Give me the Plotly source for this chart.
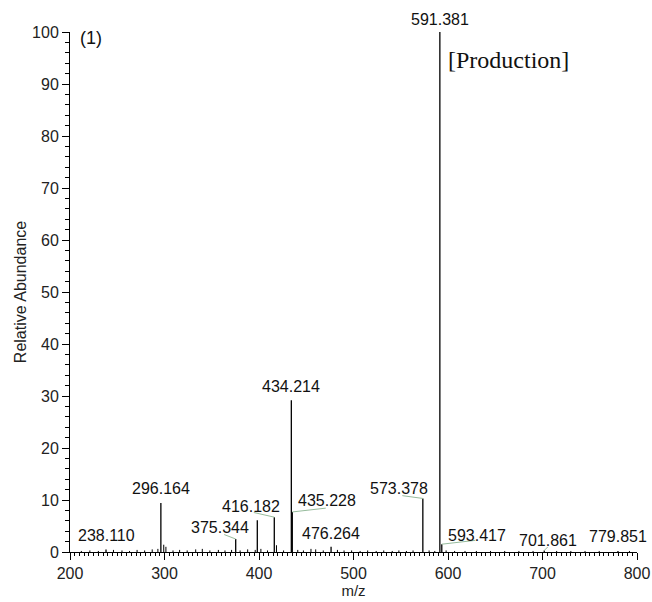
import plotly.graph_objects as go

# ---- data ----
peak_mz = [238.110, 296.164, 375.344, 398.2, 416.182, 434.214, 435.228, 476.264,
           573.378, 591.381, 593.417, 701.861, 779.851]
peak_int = [0.5, 9.4, 2.5, 6.1, 6.7, 29.2, 7.7, 1.0, 10.3, 100.0, 1.5, 0.3, 0.2]
peak_labels = ["238.110", "296.164", "375.344", "", "416.182", "434.214", "435.228",
               "476.264", "573.378", "591.381", "593.417", "701.861", "779.851"]

noise_mz = [212, 221, 230, 246, 255, 263, 271, 279, 287, 293, 299.2, 301.5, 309, 316,
            324, 333, 340, 348, 357, 364, 371, 380, 388, 396, 402, 409, 418.5, 426,
            441, 447, 455, 460, 468, 483, 490, 498, 507, 515, 524, 532, 541, 548, 556,
            563, 580, 586, 598, 607, 618, 630, 645, 660, 675, 690, 715, 730, 745, 760, 792]
noise_int = [0.2, 0.3, 0.2, 0.4, 0.3, 0.2, 0.4, 0.3, 0.5, 0.6, 1.4, 1.0, 0.3, 0.4,
             0.3, 0.5, 0.6, 0.3, 0.4, 0.3, 0.4, 0.3, 0.5, 0.4, 0.6, 0.3, 1.3, 0.3,
             0.4, 0.3, 0.6, 0.5, 0.3, 0.4, 0.3, 0.3, 0.2, 0.3, 0.2, 0.3, 0.2, 0.3, 0.2,
             0.3, 0.3, 0.2, 0.3, 0.2, 0.2, 0.2, 0.2, 0.2, 0.2, 0.2, 0.2, 0.2, 0.2, 0.2, 0.2]

# label placement styling (pixel offsets from peak top)
text_offset = {  # (dx, dy) of text centre, screen pixels (dy down)
    "375.344": (-16, -12), "416.182": (-23, -11), "435.228": (35, -11),
    "573.378": (-24, -10), "593.417": (35, -9), "701.861": (4, -10),
}
leader_offset = {  # end point of the leader line
    "375.344": (-13, -5), "416.182": (-22, -5), "435.228": (35, -4),
    "573.378": (-22, -3), "593.417": (35, -4), "701.861": (5, -5),
}
label_yshift = {"238.110": 3, "296.164": 4, "434.214": 3, "476.264": 3,
                "591.381": 2, "779.851": 4}

def sticks(xs, ys):
    sx, sy = [], []
    for x, y in zip(xs, ys):
        sx += [x, x, None]
        sy += [0, y, None]
    return sx, sy

fig = go.Figure()
nx, ny = sticks(noise_mz, noise_int)
fig.add_trace(go.Scatter(x=nx, y=ny, mode="lines", line=dict(color="black", width=1),
                         hoverinfo="skip", showlegend=False))
px_, py_ = sticks(peak_mz, peak_int)
fig.add_trace(go.Scatter(x=px_, y=py_, mode="lines", line=dict(color="black", width=1.3),
                         showlegend=False))

font_lbl = dict(family="Liberation Sans, Arial, sans-serif", size=16, color="#111")
for mz, h, lab in zip(peak_mz, peak_int, peak_labels):
    if not lab:
        continue
    if lab in text_offset:
        lx, ly = leader_offset[lab]
        fig.add_annotation(x=mz, y=h, text="", showarrow=True, arrowhead=0,
                           arrowwidth=1, arrowcolor="#96bb9c", ax=lx, ay=ly, standoff=0)
        dx, dy = text_offset[lab]
        fig.add_annotation(x=mz, y=h, text=lab, showarrow=False, xshift=dx, yshift=-dy,
                           xanchor="center", yanchor="middle", font=font_lbl)
    else:
        fig.add_annotation(x=mz, y=h, text=lab, showarrow=False, yanchor="bottom",
                           yshift=label_yshift.get(lab, 3), font=font_lbl)

fig.add_annotation(xref="paper", yref="paper", x=0.014, y=1.0, text="(1)",
                   showarrow=False, xanchor="left", yanchor="middle",
                   yshift=-6, font=dict(family="Liberation Sans, Arial, sans-serif", size=18, color="#111"))
fig.add_annotation(xref="paper", yref="paper", x=0.664, y=0.947, text="[Production]",
                   showarrow=False, xanchor="left", yanchor="middle",
                   font=dict(family="Liberation Serif, Times New Roman, serif", size=24, color="#111"))

axis_font = dict(family="Liberation Sans, Arial, sans-serif", size=16, color="#222")
fig.update_xaxes(range=[200, 800], dtick=100, showline=True, linecolor="black", linewidth=1,
                 ticks="outside", ticklen=7, tickcolor="black", showgrid=False, zeroline=False,
                 automargin=False,
                 minor=dict(dtick=5, ticks="outside", ticklen=3, tickcolor="black"),
                 tickfont=axis_font,
                 title=dict(text="m/z", font=dict(family="Liberation Sans, Arial, sans-serif", size=15, color="#222"),
                            standoff=4))
fig.update_yaxes(range=[0, 100], dtick=10, showline=True, linecolor="black", linewidth=1,
                 ticks="outside", ticklen=7, tickcolor="black", showgrid=False, zeroline=False,
                 automargin=False,
                 minor=dict(dtick=2, ticks="outside", ticklen=4, tickcolor="black"),
                 tickfont=axis_font,
                 title=dict(text="Relative Abundance", font=dict(family="Liberation Sans, Arial, sans-serif", size=16, color="#222"),
                            standoff=1))
fig.update_layout(width=652, height=602, margin=dict(l=70, r=15, t=32, b=50),
                  plot_bgcolor="white", paper_bgcolor="white")
fig.write_html("out.html")
